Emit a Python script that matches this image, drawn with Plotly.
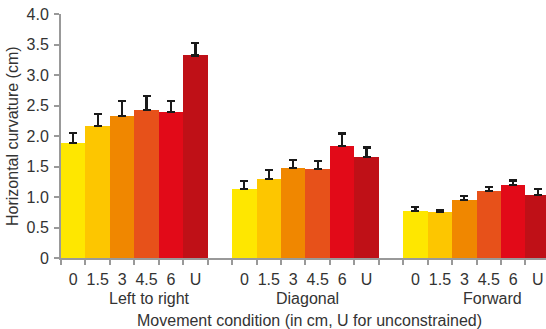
import plotly.graph_objects as go

groups = ["Left to right", "Diagonal", "Forward"]
conditions = ["0", "1.5", "3", "4.5", "6", "U"]
colors = ["#FEE700", "#FDC600", "#F08700", "#E7511A", "#E20A18", "#BF1017"]

left_vals = [1.88, 2.16, 2.33, 2.43, 2.40, 3.32]
left_err = [0.17, 0.20, 0.24, 0.23, 0.18, 0.21]
diag_vals = [1.13, 1.29, 1.47, 1.46, 1.84, 1.65]
diag_err = [0.13, 0.15, 0.14, 0.13, 0.20, 0.16]
fwd_vals = [0.77, 0.75, 0.95, 1.10, 1.20, 1.03]
fwd_err = [0.06, 0.03, 0.07, 0.07, 0.07, 0.10]

yticks = [0, 0.5, 1.0, 1.5, 2.0, 2.5, 3.0, 3.5, 4.0]
yticktext = ["0", "0.5", "1.0", "1.5", "2.0", "2.5", "3.0", "3.5", "4.0"]

all_vals = [left_vals, diag_vals, fwd_vals]
all_err = [left_err, diag_err, fwd_err]

n = len(conditions)
fig = go.Figure()
xs, ys, es, cs, labels_x, labels_t = [], [], [], [], [], []
for gi, (vals, errs) in enumerate(zip(all_vals, all_err)):
    for ci in range(n):
        x = gi * (n + 1) + ci
        xs.append(x); ys.append(vals[ci]); es.append(errs[ci]); cs.append(colors[ci])
        labels_x.append(x); labels_t.append(conditions[ci])

fig.add_trace(go.Bar(
    x=xs, y=ys, width=1.0, marker=dict(color=cs, line=dict(width=0)),
    error_y=dict(type="data", symmetric=False, array=es, arrayminus=[0] * len(es),
                 color="#1a1a1a", thickness=2.2, width=4),
    showlegend=False, hoverinfo="skip",
))
# invisible trace for xaxis2 (category labels)
fig.add_trace(go.Scatter(x=labels_x, y=[0] * len(labels_x), xaxis="x2", mode="markers",
                         marker=dict(opacity=0), showlegend=False, hoverinfo="skip"))

total = 3 * (n + 1) - 1
xr = [-0.5, total - 0.5 - 0.16]
boundaries = [b - 0.5 for b in range(total + 1)]

font = dict(family="Liberation Sans, Arial, sans-serif", size=16, color="#333333")

fig.update_layout(
    width=546, height=329,
    margin=dict(l=61, r=0, t=14, b=71, autoexpand=False),
    paper_bgcolor="white", plot_bgcolor="white",
    font=font,
    bargap=0,
    xaxis=dict(range=xr, tickmode="array", tickvals=boundaries, showticklabels=False,
               ticks="outside", ticklen=5, tickcolor="#999999", tickwidth=2, automargin=False,
               showline=True, linecolor="#999999", linewidth=2, showgrid=False, zeroline=False),
    xaxis2=dict(range=xr, overlaying="x", side="bottom", tickmode="array", tickvals=labels_x,
                ticktext=labels_t, ticks="", showline=False, showgrid=False, zeroline=False,
                tickfont=font, ticklabelstandoff=10, automargin=False),
    yaxis=dict(range=[0, 4.0], tickmode="array", tickvals=yticks, ticktext=yticktext,
               ticks="outside", ticklen=5, tickcolor="#999999", tickwidth=2, automargin=False,
               tickfont=font, ticklabelstandoff=2,
               showline=True, linecolor="#999999", linewidth=2, showgrid=False, zeroline=False),
)

fig.add_annotation(x=0, y=0.5, xref="paper", yref="paper", xshift=-49, textangle=-90,
                   text="Horizontal curvature (cm)", showarrow=False, font=font,
                   xanchor="center", yanchor="middle")
group_label_shift = [15, 2, 16]
for gi, g in enumerate(groups):
    fig.add_annotation(x=gi * (n + 1) + (n - 1) / 2, y=0, xref="x", yref="paper",
                       xshift=group_label_shift[gi], yshift=-40, text=g, showarrow=False,
                       font=font, yanchor="middle")
fig.add_annotation(x=0.5, y=0, xref="paper", yref="paper", xshift=6, yshift=-62,
                   text="Movement condition (in cm, U for unconstrained)", showarrow=False,
                   font=font, yanchor="middle")

fig.write_html("out.html", config={"displayModeBar": False, "staticPlot": True},
               post_script="document.body.style.margin='0';document.body.style.overflow='hidden';")
